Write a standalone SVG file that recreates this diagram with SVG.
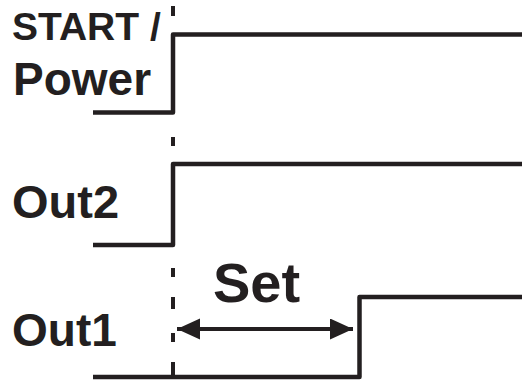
<svg xmlns="http://www.w3.org/2000/svg" width="522" height="381" viewBox="0 0 522 381">
<defs>
<style>
.sig{fill:none;stroke:#231f20;stroke-width:4.5;stroke-linejoin:round}
.dash{fill:none;stroke:#231f20;stroke-width:4}
.lbl{font-family:"Liberation Sans",Arial,sans-serif;font-weight:bold;fill:#231f20}
</style>
<marker id="ah" markerUnits="userSpaceOnUse" markerWidth="24" markerHeight="22" refX="23" refY="10.5" orient="auto-start-reverse">
<path d="M0,0 L23,10.5 L0,21 Z" fill="#231f20"/>
</marker>
</defs>
<rect width="522" height="381" fill="#fff"/>
<g id="connectors">
<path class="dash" d="M173,6 V16 M173,137 V146 M173,268 V277 M173,297 V309 M173,333 V342 M173,362 V376"/>
<line x1="177" y1="329" x2="353" y2="329" stroke="#231f20" stroke-width="4" marker-start="url(#ah)" marker-end="url(#ah)"/>
</g>
<g id="power">
<path class="sig" d="M93,112.5 H173 V34.5 H522"/>
<text class="lbl" x="12" y="40" font-size="39">START /</text>
<text class="lbl" x="13" y="95" font-size="46">Power</text>
</g>
<g id="out2">
<path class="sig" d="M93,245 H173 V164 H522"/>
<text class="lbl" x="12" y="218" font-size="47">Out2</text>
</g>
<g id="out1">
<path class="sig" d="M93,377 H359.5 V297 H522"/>
<text class="lbl" x="12" y="346" font-size="46">Out1</text>
</g>
<g id="set">
<text class="lbl" x="213" y="302" font-size="56">Set</text>
</g>
</svg>
